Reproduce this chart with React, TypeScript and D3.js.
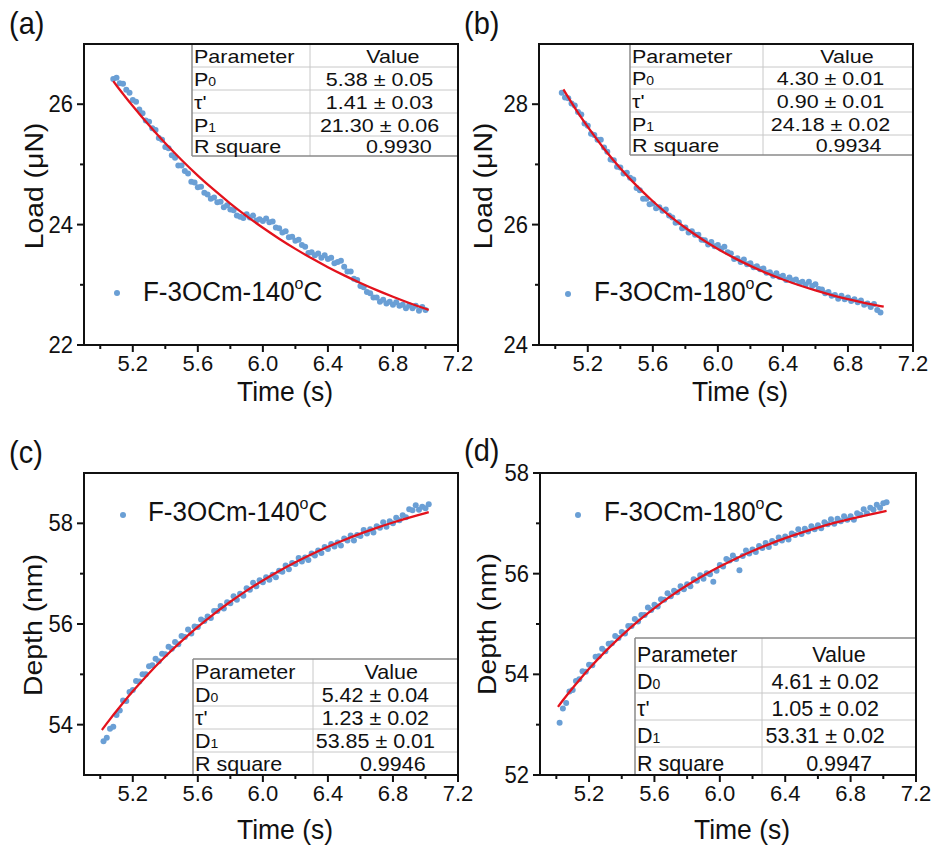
import React from "react";
import * as d3 from "d3";

const FONT = "'Liberation Sans', Arial, Helvetica, sans-serif";
const BLUE = "#6a9fd5";
const RED = "#e3121c";

// ---------- data ----------
const time = [
  5.02, 5.04, 5.06, 5.08, 5.1, 5.12, 5.14, 5.16, 5.18, 5.2,
  5.22, 5.24, 5.26, 5.28, 5.3, 5.32, 5.34, 5.36, 5.38, 5.4,
  5.42, 5.44, 5.46, 5.48, 5.5, 5.52, 5.54, 5.56, 5.58, 5.6,
  5.62, 5.64, 5.66, 5.68, 5.7, 5.72, 5.74, 5.76, 5.78, 5.8,
  5.82, 5.84, 5.86, 5.88, 5.9, 5.92, 5.94, 5.96, 5.98, 6.0,
  6.02, 6.04, 6.06, 6.08, 6.1, 6.12, 6.14, 6.16, 6.18, 6.2,
  6.22, 6.24, 6.26, 6.28, 6.3, 6.32, 6.34, 6.36, 6.38, 6.4,
  6.42, 6.44, 6.46, 6.48, 6.5, 6.52, 6.54, 6.56, 6.58, 6.6,
  6.62, 6.64, 6.66, 6.68, 6.7, 6.72, 6.74, 6.76, 6.78, 6.8,
  6.82, 6.84, 6.86, 6.88, 6.9, 6.92, 6.94, 6.96, 6.98, 7.0,
  7.02,
];

const loadA = [
  null, null, null, 26.42, 26.44, 26.35, 26.34, 26.24, 26.19, 26.07,
  26.04, 25.91, 25.85, 25.73, 25.71, 25.6, 25.57, 25.44, 25.41, 25.29,
  25.27, 25.15, 25.11, 24.98, 24.98, 24.89, 24.85, 24.71, 24.7, 24.62,
  24.63, 24.53, 24.5, 24.43, 24.45, 24.37, 24.38, 24.29, 24.32, 24.25,
  24.24, 24.15, 24.13, 24.11, 24.17, 24.12, 24.15, 24.07, 24.09, 24.06,
  24.1, 24.04, 24.05, 23.95, 23.94, 23.87, 23.89, 23.79, 23.8, 23.73,
  23.75, 23.66, 23.63, 23.53, 23.54, 23.49, 23.52, 23.45, 23.49, 23.43,
  23.45, 23.36, 23.38, 23.4, 23.3, 23.22, 23.22, 23.1, 23.08, 22.98,
  22.96, 22.88, 22.86, 22.79, 22.79, 22.72, 22.75, 22.69, 22.72, 22.67,
  22.71, 22.65, 22.67, 22.61, 22.66, 22.61, 22.65, 22.57, 22.63, 22.58,
  null,
];

const loadB = [
  null, 28.19, 28.11, 28.1, 28.01, 27.98, 27.87, 27.83, 27.68, 27.64,
  27.51, 27.49, 27.41, 27.41, 27.28, 27.21, 27.08, 27.07, 26.96, 26.95,
  26.85, 26.86, 26.78, 26.75, 26.61, 26.57, 26.43, 26.43, 26.34, 26.35,
  26.27, 26.29, 26.23, 26.25, 26.15, 26.12, 26.03, 26.04, 25.94, 25.95,
  25.87, 25.89, 25.83, 25.83, 25.75, 25.74, 25.67, 25.71, 25.64, 25.66,
  25.6, 25.63, 25.54, 25.52, 25.43, 25.44, 25.38, 25.42, 25.34, 25.36,
  25.29, 25.31, 25.26, 25.27, 25.2, 25.21, 25.15, 25.19, 25.13, 25.15,
  25.08, 25.12, 25.07, 25.09, 25.03, 25.05, 25.0, 25.05, 24.98, 25.01,
  24.93, 24.92, 24.86, 24.88, 24.82, 24.83, 24.77, 24.82, 24.76, 24.79,
  24.73, 24.76, 24.71, 24.74, 24.67, 24.69, 24.63, 24.68, 24.58, 24.54,
  null,
];

const depthC = [
  53.67, 53.74, 53.92, 53.96, 54.19, 54.28, 54.48, 54.47, 54.65, 54.69,
  54.87, 54.86, 55.0, 55.0, 55.16, 55.18, 55.31, 55.26, 55.41, 55.4,
  55.55, 55.51, 55.64, 55.6, 55.76, 55.74, 55.89, 55.81, 55.95, 55.94,
  56.09, 56.06, 56.15, 56.12, 56.26, 56.26, 56.36, 56.31, 56.43, 56.41,
  56.55, 56.48, 56.6, 56.56, 56.71, 56.68, 56.82, 56.75, 56.87, 56.83,
  56.93, 56.88, 56.98, 56.93, 57.06, 57.04, 57.16, 57.09, 57.21, 57.19,
  57.31, 57.24, 57.32, 57.27, 57.4, 57.36, 57.46, 57.41, 57.53, 57.49,
  57.59, 57.54, 57.62, 57.56, 57.7, 57.66, 57.76, 57.66, 57.77, 57.75,
  57.87, 57.8, 57.88, 57.82, 57.94, 57.91, 58.02, 57.93, 58.04, 58.0,
  58.11, 58.06, 58.16, 58.12, 58.28, 58.26, 58.36, 58.27, 58.33, 58.3,
  58.38,
];

const depthD = [
  53.04, 53.32, 53.43, 53.66, 53.69, 53.87, 53.9, 54.06, 54.05, 54.19,
  54.18, 54.35, 54.36, 54.51, 54.46, 54.61, 54.62, 54.76, 54.72, 54.84,
  54.81, 54.96, 54.96, 55.1, 55.05, 55.18, 55.18, 55.33, 55.28, 55.38,
  55.35, 55.49, 55.48, 55.61, 55.55, 55.66, 55.63, 55.75, 55.69, 55.79,
  55.75, 55.89, 55.86, 55.97, 55.9, 56.01, 55.99, 55.84, 56.06, 56.17,
  56.14, 56.29, 56.26, 56.36, 56.29, 56.07, 56.35, 56.46, 56.4, 56.48,
  56.43, 56.55, 56.51, 56.61, 56.53, 56.65, 56.61, 56.72, 56.66, 56.74,
  56.68, 56.8, 56.77, 56.88, 56.79, 56.89, 56.84, 56.94, 56.88, 56.96,
  56.9, 57.02, 56.98, 57.08, 56.99, 57.09, 57.04, 57.14, 57.07, 57.14,
  57.07, 57.2, 57.17, 57.28, 57.2, 57.31, 57.27, 57.37, 57.31, 57.4,
  57.42,
];

const fitTime = [5.01, 5.05, 5.08, 5.1, 5.15, 5.2, 5.3, 5.4, 5.5, 5.6, 5.7, 5.8, 5.9, 6.0, 6.1, 6.2, 6.3, 6.4, 6.5, 6.6, 6.7, 6.8, 6.9, 7.0, 7.02];
const fitA = [null, null, 26.384, 26.311, 26.137, 25.969, 25.649, 25.351, 25.074, 24.815, 24.575, 24.35, 24.142, 23.947, 23.766, 23.597, 23.44, 23.293, 23.157, 23.03, 22.911, 22.801, 22.698, 22.602, 22.584];
const fitB = [null, 28.247, 28.114, 28.028, 27.82, 27.623, 27.261, 26.937, 26.647, 26.388, 26.155, 25.948, 25.762, 25.596, 25.447, 25.314, 25.194, 25.088, 24.992, 24.907, 24.83, 24.762, 24.701, 24.646, 24.636];
const fitC = [53.894, 54.066, 54.191, 54.273, 54.472, 54.663, 55.023, 55.355, 55.661, 55.942, 56.202, 56.442, 56.663, 56.866, 57.054, 57.227, 57.387, 57.534, 57.669, 57.794, 57.91, 58.016, 58.114, 58.204, 58.221];
const fitD = [53.354, 53.524, 53.648, 53.729, 53.924, 54.11, 54.456, 54.77, 55.057, 55.317, 55.553, 55.768, 55.964, 56.141, 56.303, 56.45, 56.583, 56.705, 56.815, 56.916, 57.007, 57.09, 57.165, 57.234, 57.247];

const xTicks = [5.2, 5.6, 6.0, 6.4, 6.8, 7.2];
const xMinorTicks = [5.0, 5.4, 5.8, 6.2, 6.6, 7.0];

const loadParams = [["P", "0"], ["τ'", ""], ["P", "1"], ["R square", ""]];
const depthParams = [["D", "0"], ["τ'", ""], ["D", "1"], ["R square", ""]];
const valuesA = ["5.38 ± 0.05", "1.41 ± 0.03", "21.30 ± 0.06", "0.9930"];
const valuesB = ["4.30 ± 0.01", "0.90 ± 0.01", "24.18 ± 0.02", "0.9934"];
const valuesC = ["5.42 ± 0.04", "1.23 ± 0.02", "53.85 ± 0.01", "0.9946"];
const valuesD = ["4.61 ± 0.02", "1.05 ± 0.02", "53.31 ± 0.02", "0.9947"];

const legendTemps = ["140", "180", "140", "180"];

// ---------- layout ----------
const panels = [
  {
    label: "(a)", labelPos: [9, 34],
    frame: { l: 84, r: 458, t: 44, b: 345 },
    yDomain: [22, 27], yTicks: [22, 24, 26], yMinor: [23, 25],
    yTitle: "Load (μN)", yTitlePos: [34, 186], xTitlePos: [285, 401],
    values: loadA, fit: fitA, temp: legendTemps[0],
    legend: { dot: [117, 293], text: [143, 301] },
    table: { l: 192, d: 310, r: 458, rows: [44, 67, 90, 113, 136, 156], params: loadParams, vals: valuesA, pm: 0.47, hdr: 0.56, r2: 0.6 },
  },
  {
    label: "(b)", labelPos: [464, 34],
    frame: { l: 539, r: 913, t: 44, b: 345 },
    yDomain: [24, 29], yTicks: [24, 26, 28], yMinor: [25, 27],
    yTitle: "Load (μN)", yTitlePos: [483, 186], xTitlePos: [740, 401],
    values: loadB, fit: fitB, temp: legendTemps[1],
    legend: { dot: [568, 294], text: [594, 301] },
    table: { l: 630, d: 763, r: 913, rows: [44, 67, 89, 112, 135, 155], params: loadParams, vals: valuesB, pm: 0.45, hdr: 0.56, r2: 0.57 },
  },
  {
    label: "(c)", labelPos: [9, 463],
    frame: { l: 84, r: 458, t: 473, b: 775 },
    yDomain: [53, 59], yTicks: [54, 56, 58], yMinor: [55, 57],
    yTitle: "Depth (nm)", yTitlePos: [33, 625], xTitlePos: [285, 839],
    values: depthC, fit: fitC, temp: legendTemps[2],
    legend: { dot: [123, 515], text: [148, 521] },
    table: { l: 193, d: 313, r: 458, rows: [659, 683, 706, 729, 752, 775], params: depthParams, vals: valuesC, pm: 0.43, hdr: 0.54, r2: 0.55 },
  },
  {
    label: "(d)", labelPos: [464, 461],
    frame: { l: 540, r: 916, t: 473, b: 775 },
    yDomain: [52, 58], yTicks: [52, 54, 56, 58], yMinor: [53, 55, 57],
    yTitle: "Depth (nm)", yTitlePos: [487, 624], xTitlePos: [742, 839],
    values: depthD, fit: fitD, temp: legendTemps[3],
    legend: { dot: [578, 515], text: [604, 521] },
    table: { l: 635, d: 762, r: 916, rows: [638, 667, 693, 720, 747, 775], params: depthParams, vals: valuesD, pm: 0.41, hdr: 0.5, r2: 0.5 },
  },
];

const TICK_FS = 22;
const TITLE_FS = 26.5;
const TABLE_FS = 21.5;
const LEGEND_FS = 26;
const SY = 1.07; // the reference type is slightly taller than wide

function T({ x, y, rotate, sy = SY, children, ...rest }: any) {
  return (
    <text
      transform={`translate(${x},${y}) scale(1,${sy})${rotate ? ` rotate(${rotate})` : ""}`}
      {...rest}
    >
      {children}
    </text>
  );
}

function Table({ tb }: any) {
  const { l, d, r, rows, params, vals, pm, hdr, r2 } = tb;
  const cw = r - d;
  const lines = [];
  for (let i = 1; i < rows.length - 1; i++) {
    lines.push(<line key={"h" + i} x1={l} x2={r} y1={rows[i]} y2={rows[i]} stroke="#c8c8c8" strokeWidth={1} />);
  }
  const top = rows[0];
  const bot = rows[rows.length - 1];
  const rowH = (bot - top) / (rows.length - 1);
  const tsy = Math.min(1, (rowH - 0.5) / (TABLE_FS * 1.15));
  const texts = [];
  const rowBase = (i: number) => rows[i + 1] - (rows[i + 1] - rows[i]) * 0.16;
  texts.push(<T key="ph" x={l + 2} y={rowBase(0)} sy={tsy} fontSize={TABLE_FS}>Parameter</T>);
  texts.push(
    <T key="vh" x={d + cw * hdr} y={rowBase(0)} sy={tsy} fontSize={TABLE_FS} textAnchor="middle">Value</T>
  );
  params.forEach((p: string[], i: number) => {
    texts.push(
      <T key={"p" + i} x={l + 2} y={rowBase(i + 1)} sy={tsy} fontSize={TABLE_FS}>
        {p[0]}
        {p[1] ? <tspan fontSize={14}>{p[1]}</tspan> : null}
      </T>
    );
    const frac = i === 3 ? r2 : pm;
    texts.push(
      <T key={"v" + i} x={d + cw * frac} y={rowBase(i + 1)} sy={tsy} fontSize={TABLE_FS} textAnchor="middle">{vals[i]}</T>
    );
  });
  return (
    <g>
      <rect x={l} y={top} width={r - l} height={bot - top} fill="white" />
      {lines}
      <line x1={d} x2={d} y1={top} y2={bot} stroke="#c8c8c8" strokeWidth={1} />
      <line x1={l} x2={l} y1={top} y2={bot} stroke="#8a8a8a" strokeWidth={1.5} />
      <line x1={l} x2={r} y1={top} y2={top} stroke="#8a8a8a" strokeWidth={1.5} />
      <line x1={l} x2={r} y1={bot} y2={bot} stroke="#8a8a8a" strokeWidth={1.5} />
      {texts}
    </g>
  );
}

function Panel({ p }: any) {
  const { frame } = p;
  const x = d3.scaleLinear().domain([4.9, 7.2]).range([frame.l, frame.r]);
  const y = d3.scaleLinear().domain(p.yDomain).range([frame.b, frame.t]);
  const pts = time.map((t, i) => ({ t, v: p.values[i] })).filter((d) => d.v != null);
  const fitPts = fitTime.map((t, i) => ({ t, v: p.fit[i] })).filter((d) => d.v != null);
  const line = d3
    .line<any>()
    .x((d) => x(d.t))
    .y((d) => y(d.v))
    .curve(d3.curveMonotoneX);
  return (
    <g fontFamily={FONT} fill="#111">
      <T x={p.labelPos[0]} y={p.labelPos[1]} fontSize={29}>{p.label}</T>
      {xTicks.map((t) => (
        <g key={"xt" + t}>
          <line x1={x(t)} x2={x(t)} y1={frame.b} y2={frame.b + 7} stroke="#111" strokeWidth={2} />
          <T x={x(t)} y={frame.b + 26} sy={1.03} fontSize={TICK_FS} textAnchor="middle">{t.toFixed(1)}</T>
        </g>
      ))}
      {xMinorTicks.map((t) => (
        <line key={"xm" + t} x1={x(t)} x2={x(t)} y1={frame.b} y2={frame.b + 4} stroke="#111" strokeWidth={2} />
      ))}
      {p.yTicks.map((v: number) => (
        <g key={"yt" + v}>
          <line x1={frame.l - 7} x2={frame.l} y1={y(v)} y2={y(v)} stroke="#111" strokeWidth={2} />
          <T x={frame.l - 11} y={y(v) + 8} fontSize={TICK_FS} textAnchor="end">{v}</T>
        </g>
      ))}
      {p.yMinor.map((v: number) => (
        <line key={"ym" + v} x1={frame.l - 4} x2={frame.l} y1={y(v)} y2={y(v)} stroke="#111" strokeWidth={2} />
      ))}
      <T x={p.xTitlePos[0]} y={p.xTitlePos[1]} fontSize={TITLE_FS} textAnchor="middle">Time (s)</T>
      <T
        x={p.yTitlePos[0]}
        y={p.yTitlePos[1]}
        rotate={-90}
        fontSize={TITLE_FS}
        textAnchor="middle"
        dominantBaseline="central"
      >
        {p.yTitle}
      </T>
      {pts.map((d, i) => (
        <circle key={"c" + i} cx={x(d.t)} cy={y(d.v)} r={3} fill={BLUE} />
      ))}
      <path d={line(fitPts) || ""} fill="none" stroke={RED} strokeWidth={2.3} />
      <Table tb={p.table} />
      <circle cx={p.legend.dot[0]} cy={p.legend.dot[1]} r={3} fill={BLUE} />
      <T x={p.legend.text[0]} y={p.legend.text[1]} fontSize={LEGEND_FS}>
        {"F-3OCm-" + p.temp}
        <tspan fontSize={16} dy={-11}>o</tspan>
        <tspan dy={11}>C</tspan>
      </T>
      <rect x={frame.l} y={frame.t} width={frame.r - frame.l} height={frame.b - frame.t} fill="none" stroke="#111" strokeWidth={2} />
    </g>
  );
}

export default function App() {
  return (
    <svg width={932} height={848} style={{ position: "absolute", left: 0, top: 0, background: "white" }}>
      <rect width={932} height={848} fill="white" />
      {panels.map((p, i) => (
        <Panel key={i} p={p} />
      ))}
    </svg>
  );
}
